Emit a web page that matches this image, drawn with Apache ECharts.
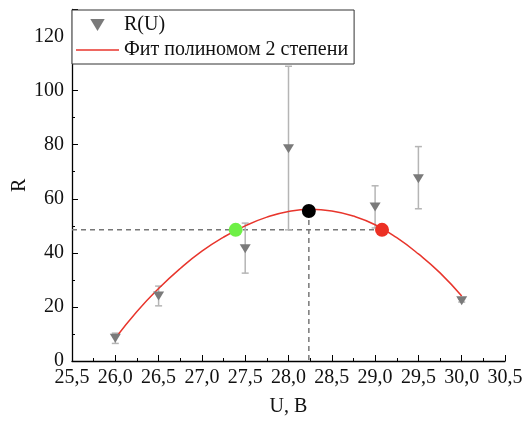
<!DOCTYPE html>
<html lang="ru">
<head>
    <meta charset="UTF-8">
    <title>R(U)</title>
    <style>
        html,
        body {
            margin: 0;
            padding: 0;
            width: 100%;
            height: 100%;
            background: #fff;
        }

        #canvas {
            width: 528px;
            height: 423px;
        }
    </style>
</head>
<body>
<div id="canvas"></div>
</body>
<script src="https://cdn.jsdelivr.net/npm/echarts@6.0.0/dist/echarts.min.js"></script>
<script>

    // измерения
    const uValues = [26.0, 26.5, 27.5, 28.0, 29.0, 29.5, 30.0]
    const rValues = [8.4, 24.0, 41.5, 78.5, 57.0, 67.4, 22.3]
    const rLow = [6.5, 20.4, 32.5, 48.5, 49.2, 56.3, 21.8]
    const rHigh = [10.3, 27.7, 51.0, 109.0, 64.8, 79.3, 22.8]

    // фит полиномом 2 степени
    const fitU = [26.0, 26.25, 26.5, 26.75, 27.0, 27.25, 27.5, 27.75, 28.0, 28.25, 28.5, 28.75, 29.0, 29.25, 29.5, 29.75, 30.0]
    const fitR = [8.4, 18.3, 26.8, 34.2, 40.6, 45.8, 50.0, 53.2, 55.3, 56.1, 55.5, 53.6, 50.4, 45.6, 39.6, 32.6, 24.0]

    // отмеченные точки: левая, вершина, правая
    const leftPoint = [27.39, 48.5]
    const topPoint = [28.235, 55.5]
    const rightPoint = [29.08, 48.5]

    const fitName = 'Фит полиномом 2 степени'
    const font = 'Liberation Serif'

    const points = uValues.map((u, i) => [u, rValues[i]])
    const errors = uValues.map((u, i) => [u, rLow[i], rHigh[i]])
    const fit = fitU.map((u, i) => [u, fitR[i]])

    function renderError(params, api) {
        const x = api.value(0)
        const lo = api.coord([x, api.value(1)])
        const hi = api.coord([x, api.value(2)])
        const w = 3.5
        const style = { stroke: '#b5b5b5', lineWidth: 1.5 }
        return {
            type: 'group',
            children: [
                { type: 'line', shape: { x1: lo[0], y1: lo[1], x2: hi[0], y2: hi[1] }, style },
                { type: 'line', shape: { x1: lo[0] - w, y1: lo[1], x2: lo[0] + w, y2: lo[1] }, style },
                { type: 'line', shape: { x1: hi[0] - w, y1: hi[1], x2: hi[0] + w, y2: hi[1] }, style }
            ]
        }
    }

    const myChart = echarts.init(document.getElementById('canvas'))

    myChart.setOption({
        animation: false,
        textStyle: { fontFamily: font },
        grid: { left: 72, right: 23, top: 9.5, bottom: 62, containLabel: false, outerBoundsMode: 'none' },
        legend: {
            orient: 'vertical',
            left: 72,
            top: 10,
            padding: [5, 6, 4, 4],
            itemGap: 5,
            itemWidth: 43,
            itemHeight: 12,
            backgroundColor: '#fff',
            borderColor: '#333',
            borderWidth: 1,
            borderRadius: 0,
            textStyle: { fontFamily: font, fontSize: 20, color: '#111' },
            data: [
                { name: 'R(U)', icon: 'path://M0,0 L12,0 L6,10 Z' },
                { name: fitName, icon: 'path://M0,0 L43,0 L43,1.5 L0,1.5 Z' }
            ]
        },
        xAxis: {
            type: 'value',
            min: 25.5,
            max: 30.5,
            interval: 0.5,
            name: 'U, B',
            nameLocation: 'middle',
            nameGap: 36,
            nameMoveOverlap: false,
            nameTextStyle: { fontFamily: font, fontSize: 20, color: '#111' },
            axisLine: { onZero: false, lineStyle: { color: '#000', width: 1.3 } },
            axisTick: { inside: true, length: 6, lineStyle: { color: '#000' } },
            minorTick: { show: true, splitNumber: 2, length: 3, lineStyle: { color: '#000' } },
            splitLine: { show: false },
            axisLabel: {
                fontFamily: font,
                fontSize: 20,
                color: '#111',
                margin: 7,
                formatter: v => v.toFixed(1).replace('.', ',')
            }
        },
        yAxis: {
            type: 'value',
            min: 0,
            max: 130,
            interval: 20,
            name: 'R',
            nameLocation: 'middle',
            nameGap: 42,
            nameMoveOverlap: false,
            nameTextStyle: { fontFamily: font, fontSize: 20, color: '#111' },
            axisLine: { show: true, lineStyle: { color: '#000', width: 1.3 } },
            axisTick: { inside: true, length: 6, lineStyle: { color: '#000' } },
            minorTick: { show: true, splitNumber: 2, length: 3, lineStyle: { color: '#000' } },
            splitLine: { show: false },
            axisLabel: {
                fontFamily: font,
                fontSize: 20,
                color: '#111',
                margin: 8,
                showMaxLabel: false
            }
        },
        series: [
            {
                name: 'guideH',
                type: 'line',
                data: [[25.5, leftPoint[1]], rightPoint],
                symbol: 'none',
                lineStyle: { color: '#777', width: 1.5, type: [5, 4] },
                z: 1
            },
            {
                name: 'guideV',
                type: 'line',
                data: [topPoint, [topPoint[0], 0]],
                symbol: 'none',
                lineStyle: { color: '#777', width: 1.5, type: [5, 4] },
                z: 1
            },
            {
                name: 'errors',
                type: 'custom',
                renderItem: renderError,
                data: errors,
                encode: { x: 0, y: [1, 2] },
                z: 2
            },
            {
                name: fitName,
                type: 'line',
                data: fit,
                smooth: true,
                symbol: 'none',
                lineStyle: { color: '#e8352c', width: 1.5 },
                itemStyle: { color: '#e8352c' },
                z: 3
            },
            {
                name: 'R(U)',
                type: 'scatter',
                data: points,
                symbol: 'triangle',
                symbolRotate: 180,
                symbolSize: [11, 9],
                itemStyle: { color: '#7a7a7a', opacity: 1 },
                z: 4
            },
            {
                name: 'marks',
                type: 'scatter',
                symbolSize: 14,
                data: [
                    { value: leftPoint, itemStyle: { color: '#6ef046', opacity: 1 } },
                    { value: topPoint, itemStyle: { color: '#000', opacity: 1 } },
                    { value: rightPoint, itemStyle: { color: '#ec3024', opacity: 1 } }
                ],
                z: 5
            }
        ]
    })
</script>
</html>
